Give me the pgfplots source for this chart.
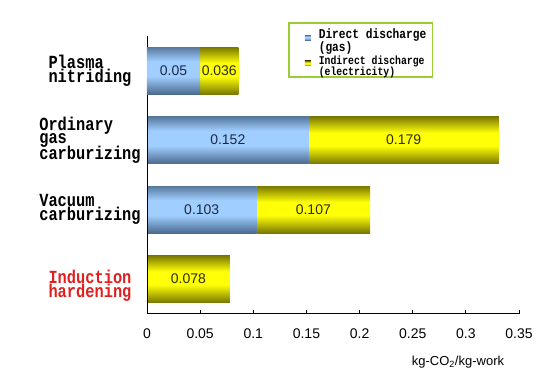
\documentclass[border=0pt]{standalone}
\usepackage{pgfplots}
\pgfplotsset{compat=1.18}
\usepackage{fontspec}
\setmainfont{Liberation Sans}
\newfontfamily\labfont[FakeStretch=0.83]{Liberation Mono}
\definecolor{bluedark}{HTML}{4B6A8E}
\definecolor{bluelight}{HTML}{A0CEFF}
\definecolor{yeldark}{HTML}{7A7800}
\definecolor{yellight}{HTML}{FFFF08}
\definecolor{leggreen}{HTML}{9ACD32}
\definecolor{indred}{HTML}{E0201F}
\definecolor{numblue}{HTML}{1C2A48}
\definecolor{numyel}{HTML}{2E2E00}
\pgfdeclareverticalshading{bluebar}{100bp}{color(0bp)=(bluedark); color(25bp)=(bluedark); color(44bp)=(bluelight); color(60bp)=(bluelight); color(75bp)=(bluedark!85!bluelight); color(100bp)=(bluedark!85!bluelight)}
\pgfdeclareverticalshading{yelbar}{100bp}{color(0bp)=(yeldark); color(25bp)=(yeldark); color(44bp)=(yellight); color(58bp)=(yellight); color(75bp)=(yeldark); color(100bp)=(yeldark)}
\pgfplotsset{
  common/.style={at={(147pt,76.25pt)}, anchor=south west,
    scale only axis, width=372pt, height=277.75pt,
    xbar stacked, bar width=47pt,
    xmin=0, xmax=0.35, ymin=-0.5, ymax=3.5},
  barlab/.style={nodes near coords, point meta=explicit symbolic,
    every node near coord/.append style={anchor=center, font=\fontsize{14}{14}\selectfont, text=#1}},
  bluestyle/.style={draw=none, shade, shading=bluebar, barlab=numblue},
  yelstyle/.style={draw=none, shade, shading=yelbar, barlab=numyel},
}
\begin{document}
\begin{tikzpicture}
\useasboundingbox (0,0) rectangle (558pt,390pt);
% Ordinary gas carburizing
\begin{axis}[common, hide axis]
\addplot[bluestyle] coordinates {(0.152,2)[0.152]};
\addplot[yelstyle] coordinates {(0.179,2)[0.179]};
\end{axis}
% Vacuum carburizing
\begin{axis}[common, hide axis]
\addplot[bluestyle] coordinates {(0.103,1)[0.103]};
\addplot[yelstyle] coordinates {(0.107,1)[0.107]};
\end{axis}
% Induction hardening
\begin{axis}[common, hide axis]
\addplot[yelstyle] coordinates {(0.078,0)[0.078]};
\end{axis}
% Plasma nitriding + axes, legend
\begin{axis}[common,
  axis x line*=bottom, axis y line*=left,
  axis line style={black, line width=0.8pt},
  xtick={0,0.05,0.1,0.15,0.2,0.25,0.3,0.35},
  xticklabels={0,0.05,0.1,0.15,0.2,0.25,0.3,0.35},
  xticklabel style={font=\fontsize{14}{14}\selectfont, yshift=-11pt},
  tick align=inside, major tick length=4pt,
  xtick style={black, line width=0.8pt},
  ytick={3,2,1},
  yticklabels={
    {Plasma\\nitriding},
    {Ordinary\\[-1pt]gas\\[-3pt]carburizing},
    {Vacuum\\carburizing}},
  yticklabel style={font=\labfont\bfseries\fontsize{18.5}{14}\selectfont, align=left, anchor=center, xshift=-57pt},
  extra y ticks={0},
  extra y tick labels={{\textcolor{indred}{Induction}\\\textcolor{indred}{hardening}}},
  extra y tick style={yticklabel style={yshift=-7pt}},
  ytick style={draw=none},
  xlabel={kg-CO\textsubscript{2}/kg-work},
  xlabel style={at={(axis description cs:0.836,-0.174)}, anchor=center, font=\fontsize{13}{13}\selectfont},
  legend style={at={(0.379,1.0504)}, anchor=north west, draw=leggreen, line width=1.6pt,
    inner xsep=4pt, inner ysep=4pt, row sep=5pt, fill=white},
  legend cell align=left,
  legend image code/.code={\path (0pt,0pt) (24pt,0pt); \path[#1,draw=none] (12pt,-2.5pt) rectangle (18pt,2.5pt);},
]
\addplot[bluestyle] coordinates {(0.05,3)[0.05]};
\addlegendentry{\labfont\bfseries\fontsize{13.5}{9.5}\selectfont\begin{tabular}{@{}l@{}}Direct discharge\\(gas)\end{tabular}}
\addplot[yelstyle] coordinates {(0.036,3)[0.036]};
\addlegendentry{\labfont\bfseries\fontsize{11.8}{9}\selectfont\begin{tabular}{@{}l@{}}Indirect discharge\\(electricity)\end{tabular}}
\end{axis}
\end{tikzpicture}
\end{document}
